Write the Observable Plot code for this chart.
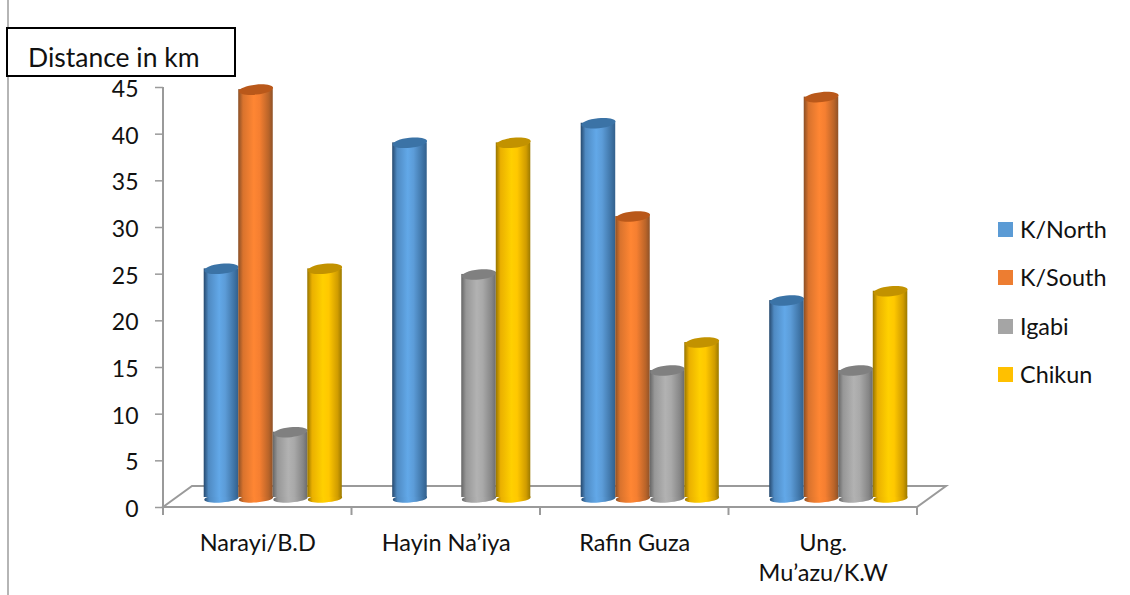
<!DOCTYPE html>
<html>
<head>
<meta charset="utf-8">
<script src="https://cdn.jsdelivr.net/npm/d3@7"></script>
<script src="https://cdn.jsdelivr.net/npm/@observablehq/plot@0.6"></script>
<style>
  html, body { margin: 0; padding: 0; background: #fff; }
  #page { position: relative; width: 1130px; height: 595px; overflow: hidden; font-family: Lato, sans-serif; color: #111; }
  #edge { position: absolute; left: 7px; top: 0; width: 2px; height: 595px; background: #b5b5b5; }
  #title { position: absolute; left: 6px; top: 27px; width: 226px; height: 46px; border: 2px solid #000; background: #fff; }
  #title span { position: absolute; left: 20px; top: 0; font-size: 26.5px; line-height: 56px; white-space: nowrap; }
  .lg { position: absolute; left: 998px; height: 15px; }
  .lg i { position: absolute; left: 0; top: 0; width: 15px; height: 15px; }
  .lg span { position: absolute; left: 22px; top: -8px; font-size: 23.4px; line-height: 30px; white-space: nowrap; }
  svg { position: absolute; left: 0; top: 0; }
</style>
</head>
<body>
<div id="page"></div>
<script>
const categories = ["Narayi/B.D", "Hayin Na’iya", "Rafin Guza", "Ung.\nMu’azu/K.W"];
const seriesNames = ["K/North", "K/South", "Igabi", "Chikun"];
const kNorth = [24.5, 38, 40.1, 21.1];
const kSouth = [43.7, null, 30.1, 42.9];
const igabi = [7, 23.9, 13.6, 13.6];
const chikun = [24.5, 38, 16.6, 22.1];
const yTicks = [0, 5, 10, 15, 20, 25, 30, 35, 40, 45];

const legendColors = ["#5b9bd5", "#ed7d31", "#a5a5a5", "#ffc000"];
const capColors = ["#3b73a6", "#b9581a", "#808080", "#c29200"];
const gradients = [
  ["#26496e", "#4f8ac2", "#62a8e8", "#5c9cd8", "#3f74a6", "#33608c"],
  ["#8a4f26", "#d9732d", "#ff8633", "#f57f31", "#b96429", "#8f5228"],
  ["#666666", "#979797", "#b2b2b2", "#a9a9a9", "#868686", "#6c6c6c"],
  ["#967400", "#eab000", "#ffd000", "#ffc800", "#d09c00", "#9c7a00"]
];
const stops = [0, 0.14, 0.45, 0.62, 0.88, 1];

const values = [kNorth, kSouth, igabi, chikun];
const table = seriesNames.flatMap((s, si) =>
  categories.map((c, ci) => ({ category: c, series: s, si, value: values[si][ci] }))
).filter(d => d.value != null);

// Cylinder ends: a slightly tilted ellipse
function ellipseSymbol(rx, ry, deg) {
  const t = deg * Math.PI / 180, k = 0.5523;
  const p = (x, y) => [x * Math.cos(t) - y * Math.sin(t), x * Math.sin(t) + y * Math.cos(t)];
  return {
    draw(ctx) {
      const seg = [
        [[rx, -k * ry], [k * rx, -ry], [0, -ry]],
        [[-k * rx, -ry], [-rx, -k * ry], [-rx, 0]],
        [[-rx, k * ry], [-k * rx, ry], [0, ry]],
        [[k * rx, ry], [rx, k * ry], [rx, 0]]
      ];
      ctx.moveTo(...p(rx, 0));
      for (const [a, b, c] of seg) ctx.bezierCurveTo(...p(...a), ...p(...b), ...p(...c));
      ctx.closePath();
    }
  };
}
const topEnd = ellipseSymbol(17.2, 5, -6);
const bottomEnd = ellipseSymbol(17.2, 4, -4);

const depthX = 29, depthY = -21, barDx = 15.5, barDy = -10;
const grid = "#9a9a9a";

// Function marks are called once per facet; these two are drawn only in the first.
let defsDone = false, floorDone = false;

function defs() {
  if (defsDone) return null;
  defsDone = true;
  const d = d3.create("svg:defs");
  gradients.forEach((g, i) => {
    const lg = d.append("linearGradient").attr("id", "cyl" + i);
    g.forEach((c, j) => lg.append("stop").attr("offset", stops[j]).attr("stop-color", c));
  });
  return d.node();
}

function floor(index, { fx, y }) {
  if (floorDone) return null;
  floorDone = true;
  const g = d3.create("svg:g").attr("fill", "none").attr("stroke", grid).attr("stroke-width", 2);
  const step = fx(categories[1]) - fx(categories[0]);
  const x0 = fx(categories[0]), x1 = x0 + step * categories.length, y0 = y(0);
  g.append("path").attr("d",
    `M${x0},${y0}L${x0 + depthX},${y0 + depthY}L${x1 + depthX},${y0 + depthY}L${x1},${y0}Z`);
  g.append("path").attr("d", `M${x0},${y(45)}V${y0}`);
  const edges = [...categories.map(c => fx(c)), x1];
  for (const e of edges) g.append("path").attr("d", `M${e},${y0}v8`);
  return g.node();
}

const seriesMarks = seriesNames.flatMap((s, i) => {
  const data = table.filter(d => d.si === i);
  return [
    Plot.dot(data, { fx: "category", x: "series", y: () => 0, r: 17, symbol: bottomEnd, dx: barDx, dy: barDy + 1, fill: `url(#cyl${i})`, stroke: "none" }),
    Plot.barY(data, { fx: "category", x: "series", y: "value", dx: barDx, dy: barDy, fill: `url(#cyl${i})` }),
    Plot.dot(data, { fx: "category", x: "series", y: "value", r: 17, symbol: topEnd, dx: barDx, dy: barDy, fill: capColors[i], stroke: "none" })
  ];
});

const chart = Plot.plot({
  width: 1130,
  height: 595,
  marginLeft: 163,
  marginRight: 213,
  marginTop: 87,
  marginBottom: 88,
  style: { fontFamily: "Lato, sans-serif", background: "transparent", overflow: "visible" },
  fx: { domain: categories, padding: 0, round: false, label: null },
  x: { domain: seriesNames, paddingInner: 0, paddingOuter: 0.73, round: false, axis: null },
  y: { domain: [0, 45], label: null },
  marks: [
    defs,
    floor,
    Plot.axisY({ ticks: yTicks, tickSize: 8, fill: "none", stroke: grid, strokeWidth: 1.5, label: null }),
    Plot.axisY({ ticks: yTicks, tickSize: 0, tickPadding: 25, dy: 2, stroke: "none", fill: "#111", fontSize: 23, label: null, tickFormat: d => String(d) }),
    Plot.axisFx({ anchor: "bottom", tickSize: 0, tickPadding: 22, fontSize: 23.5, fill: "#111", lineHeight: 1.28, label: null }),
    ...seriesMarks
  ]
});

const page = document.getElementById("page");
page.appendChild(chart);
const edge = document.createElement("div"); edge.id = "edge"; page.appendChild(edge);
const title = document.createElement("div"); title.id = "title";
title.innerHTML = "<span>Distance in km</span>";
page.appendChild(title);
const legendTops = [222, 270, 319, 367];
seriesNames.forEach((s, i) => {
  const r = document.createElement("div"); r.className = "lg"; r.style.top = legendTops[i] + "px";
  const sw = document.createElement("i"); sw.style.background = legendColors[i];
  const t = document.createElement("span"); t.textContent = s;
  r.append(sw, t); page.appendChild(r);
});
</script>
</body>
</html>
